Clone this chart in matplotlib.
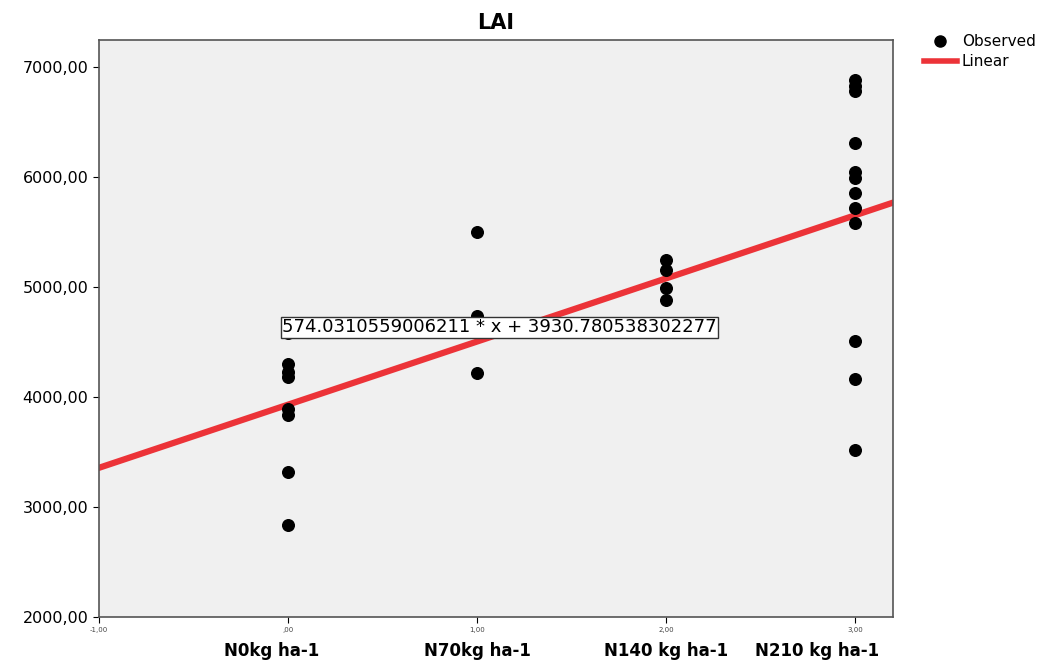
"""LAI vs nitrogen rate: observed points and linear fit, saved as out.png."""
import numpy as np
import matplotlib
matplotlib.use("Agg")
import matplotlib.pyplot as plt
from matplotlib.lines import Line2D

# observed LAI per treatment (coded x = 0..3)
x_n0 = [0, 0, 0, 0, 0, 0, 0, 0]
y_n0 = [4580, 4300, 4230, 4180, 3890, 3840, 3320, 2840]
x_n70 = [1, 1, 1]
y_n70 = [5500, 4740, 4220]
x_n140 = [2, 2, 2, 2, 2]
y_n140 = [5245, 5155, 4990, 4880, 4600]
x_n210 = [3] * 12
y_n210 = [6880, 6830, 6780, 6310, 6045, 5990, 5855, 5720, 5580, 4510, 4165, 3520]

slope, intercept = 574.0310559006211, 3930.780538302277
fit_label = "574.0310559006211 * x + 3930.780538302277"

x_ticks = [-1, 0, 1, 2, 3]
x_ticklabels = ["-1,00", ",00", "1,00", "2,00", "3,00"]
y_ticks = [2000, 3000, 4000, 5000, 6000, 7000]
cat_labels = ["N0kg ha-1", "N70kg ha-1", "N140 kg ha-1", "N210 kg ha-1"]
cat_pos = [-0.085, 1.0, 2.0, 2.80]

xs = np.array(x_n0 + x_n70 + x_n140 + x_n210)
ys = np.array(y_n0 + y_n70 + y_n140 + y_n210)

fig = plt.figure(figsize=(10.59, 6.62), dpi=100)
ax = fig.add_axes([0.0935, 0.068, 0.7495, 0.872])
ax.set_facecolor("#f0f0f0")

ax.scatter(xs, ys, s=70, color="black", marker="o", zorder=3)
xl = np.array([-1.0, 3.2])
ax.plot(xl, slope * xl + intercept, color="#ec3338", lw=4.5, zorder=2)

ax.text(1.12, 4636, fit_label, ha="center", va="center", fontsize=13, zorder=4,
        bbox=dict(boxstyle="square,pad=0.08", fc="white", ec="#333333", lw=1))

ax.set_xlim(-1, 3.2)
ax.set_ylim(2000, 7250)
ax.set_xticks(x_ticks)
ax.set_xticklabels(x_ticklabels, fontsize=5, color="#444444")
ax.set_yticks(y_ticks)
ax.set_yticklabels([f"{v},00" for v in y_ticks], fontsize=11.5)
ax.tick_params(axis="both", direction="out", length=4, width=0.8)
for s in ax.spines.values():
    s.set_color("#555555")
    s.set_linewidth(1.2)

trans = ax.get_xaxis_transform()
for p, lab in zip(cat_pos, cat_labels):
    ax.text(p, -0.059, lab, transform=trans, ha="center", va="center",
            fontsize=12, fontweight="bold")

ax.set_title("LAI", fontsize=15, fontweight="bold", pad=8)

handles = [Line2D([], [], marker="o", ls="none", color="black", markersize=8),
           Line2D([], [], color="#ec3338", lw=4)]
fig.legend(handles, ["Observed", "Linear"], loc="upper left",
           bbox_to_anchor=(0.862, 0.965), frameon=False, fontsize=11,
           handlelength=2.2, labelspacing=0.35, borderpad=0.2, handletextpad=0.3)

fig.savefig("out.png", dpi=100)
